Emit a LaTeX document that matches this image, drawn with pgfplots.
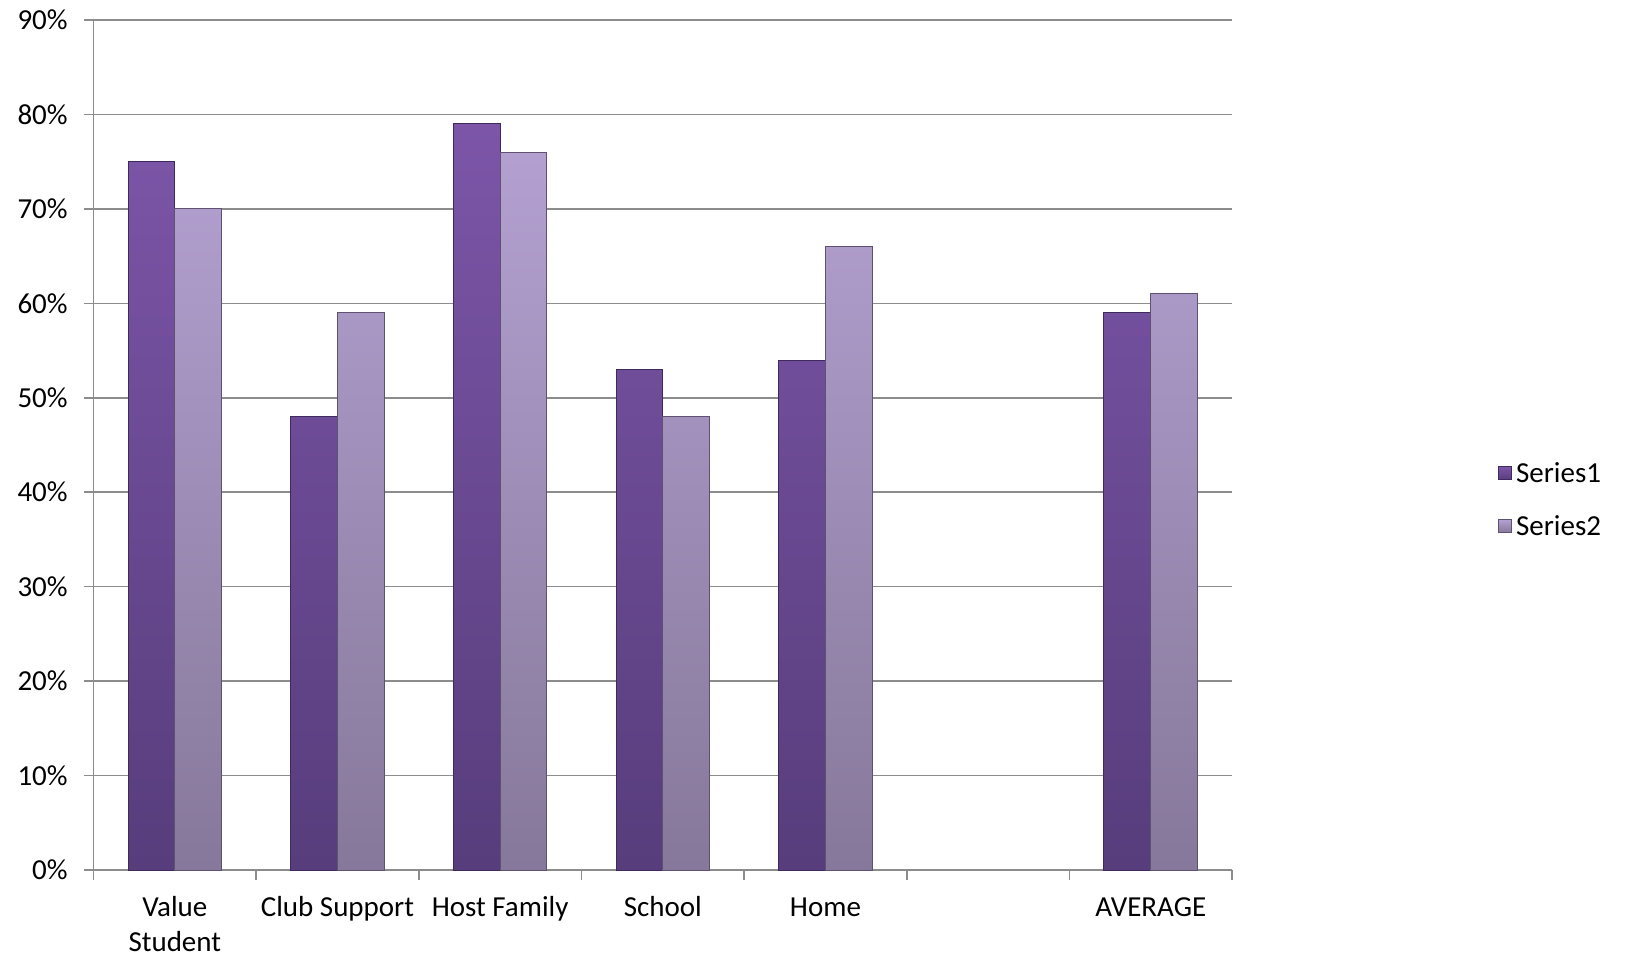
\documentclass[border=0pt]{standalone}
\usepackage{pgfplots}
\pgfplotsset{compat=1.18}
\usepackage{fontspec}
\setmainfont{Carlito}

\definecolor{sOneTop}{HTML}{7C55A8}
\definecolor{sOneBot}{HTML}{573D7C}
\definecolor{sOneEdge}{HTML}{3E2A5C}
\definecolor{sTwoTop}{HTML}{B3A0D1}
\definecolor{sTwoBot}{HTML}{86789A}
\definecolor{sTwoEdge}{HTML}{5E5270}
\definecolor{gridgray}{HTML}{8C8C8C}

\begin{document}
\begin{tikzpicture}
\path[use as bounding box] (-46.75bp,-43.5bp) rectangle (777.25bp,435bp);
\begin{axis}[
  at={(0,0)}, anchor=south west,
  scale only axis,
  width=569.3bp, height=425bp,
  ybar=0pt, bar width=23.4bp,
  ymin=0, ymax=0.9,
  xmin=-0.5, xmax=6.5,
  ytick={0,0.1,...,0.9},
  yticklabel={\pgfmathparse{round(100*\tick)}\pgfmathprintnumber[fixed,precision=0]{\pgfmathresult}\%},
  /pgf/number format/assume math mode=true,
  xtick={0,1,2,3,4,6},
  xticklabels={{\strut Value\\Student},{\strut Club Support},{\strut Host Family},{\strut School},{\strut Home},{\strut AVERAGE}},
  xticklabel style={align=center, anchor=north, inner sep=0pt, font=\fontsize{14.5bp}{17.6bp}\selectfont, yshift=-5.7bp},
  yticklabel style={font=\fontsize{14.5bp}{16bp}\selectfont, xshift=-4.4bp},
  minor xtick={-0.5,0.5,...,6.5},
  tick align=outside,
  major tick length=5bp,
  minor tick length=5bp,
  x tick style={draw=none},
  minor x tick style={draw=gridgray, line width=0.8bp},
  y tick style={draw=gridgray, line width=0.8bp},
  ymajorgrids,
  major grid style={draw=gridgray, line width=0.8bp},
  axis x line*=bottom, axis y line*=left,
  axis line style={draw=gridgray, line width=0.9bp},
  legend style={at={(1.228,0.435)}, anchor=west, draw=none, fill=none,
    font=\fontsize{14.5bp}{16bp}\selectfont, row sep=11bp,
    /tikz/every even column/.append style={column sep=2bp}},
  legend cell align=left,
  legend image code/.code={\draw[#1] (-2bp,-3bp) rectangle (4.5bp,3.5bp);},
]
\addplot[draw=sOneEdge, line width=0.5bp, top color=sOneTop, bottom color=sOneBot]
  coordinates {(0,0.75) (1,0.48) (2,0.79) (3,0.53) (4,0.54) (6,0.59)};
\addplot[draw=sTwoEdge, line width=0.5bp, top color=sTwoTop, bottom color=sTwoBot]
  coordinates {(0,0.70) (1,0.59) (2,0.76) (3,0.48) (4,0.66) (6,0.61)};
\legend{Series1,Series2}
\end{axis}
\end{tikzpicture}
\end{document}
